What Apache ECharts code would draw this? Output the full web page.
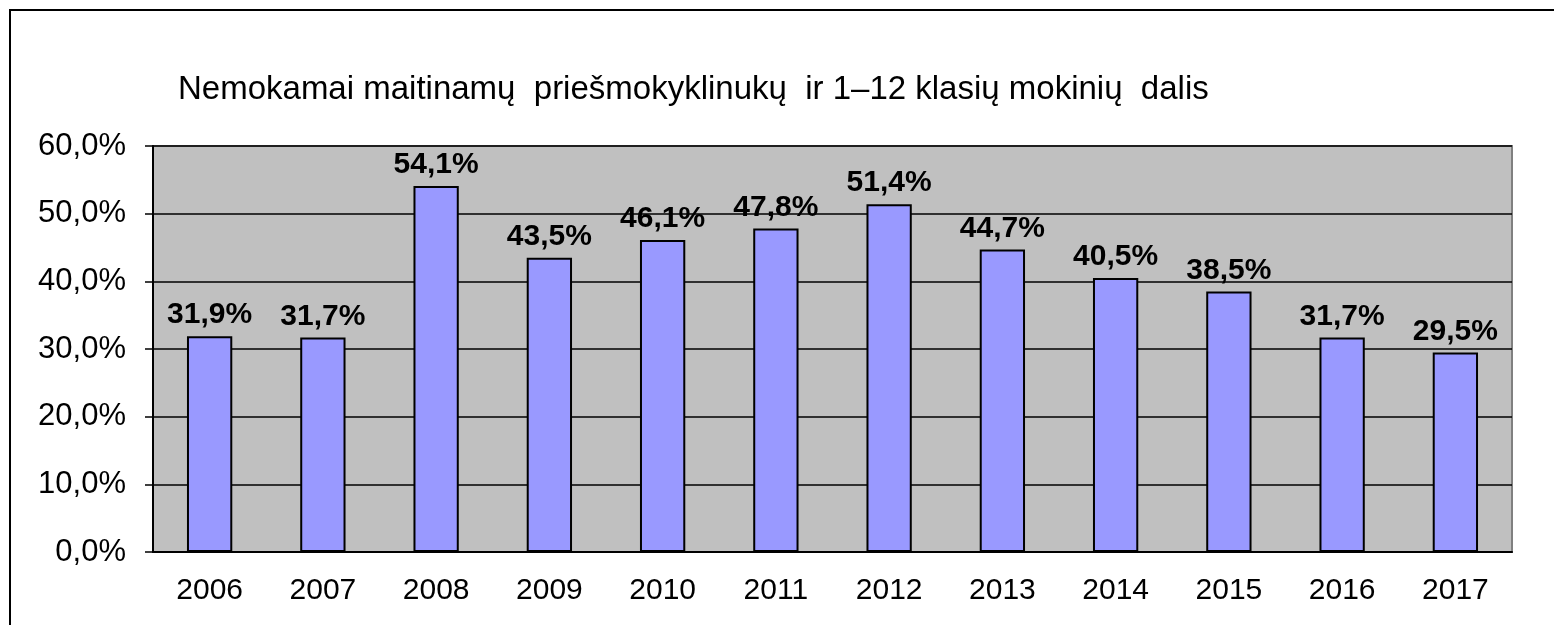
<!DOCTYPE html>
<html>
<head>
<meta charset="utf-8">
<script src="https://cdn.jsdelivr.net/npm/echarts@6/dist/echarts.min.js"></script>
<style>
  html, body { margin: 0; padding: 0; background: #fff; }
  #chart { width: 1554px; height: 625px; }
</style>
</head>
<body>
<div id="chart"></div>
<script>
// metai ir nemokamai maitinamų mokinių dalis (%)
const years = ['2006', '2007', '2008', '2009', '2010', '2011', '2012', '2013', '2014', '2015', '2016', '2017'];
const shares = [31.9, 31.7, 54.1, 43.5, 46.1, 47.8, 51.4, 44.7, 40.5, 38.5, 31.7, 29.5];

const fmt = (v) => v.toFixed(1).replace('.', ',') + '%';

const myChart = echarts.init(document.getElementById('chart'));
const option = {
    animation: false,
    textStyle: { fontFamily: '"Liberation Sans", Arial, sans-serif' },
    title: {
        text: 'Nemokamai maitinamų  priešmokyklinukų  ir 1–12 klasių mokinių  dalis',
        left: 173,
        top: 68,
        textStyle: { fontSize: 33, fontWeight: 'normal', color: '#000' }
    },
    graphic: [{
        type: 'rect',
        shape: { x: 10, y: 10, width: 1600, height: 700 },
        style: { fill: 'none', stroke: '#000', lineWidth: 2 },
        silent: true
    }],
    grid: {
        left: 153,
        right: 42,
        top: 146,
        bottom: 73,
        show: true,
        backgroundColor: '#C0C0C0',
        borderColor: '#808080',
        borderWidth: 2
    },
    xAxis: {
        type: 'category',
        data: years,
        axisLine: { lineStyle: { color: '#000', width: 2 } },
        axisTick: { length: 9, lineStyle: { color: '#000', width: 1.5 } },
        axisLabel: { fontSize: 30, color: '#000', margin: 24 }
    },
    yAxis: {
        type: 'value',
        min: 0,
        max: 60,
        interval: 10,
        axisLine: { show: true, lineStyle: { color: '#000', width: 2 } },
        axisTick: { show: true, length: 8, lineStyle: { color: '#000', width: 1.5 } },
        axisLabel: { fontSize: 31, color: '#000', margin: 27, formatter: (v) => fmt(v) },
        splitLine: { lineStyle: { color: '#000', width: 1.5 } }
    },
    series: [{
        type: 'bar',
        data: shares,
        barWidth: '40%',
        itemStyle: { color: '#9999FF', borderColor: '#000', borderWidth: 2 },
        label: {
            show: true,
            position: 'top',
            distance: 6,
            fontSize: 30,
            fontWeight: 'bold',
            color: '#000',
            formatter: (p) => fmt(p.value)
        }
    }]
};
myChart.setOption(option, true);
</script>
</body>
</html>
